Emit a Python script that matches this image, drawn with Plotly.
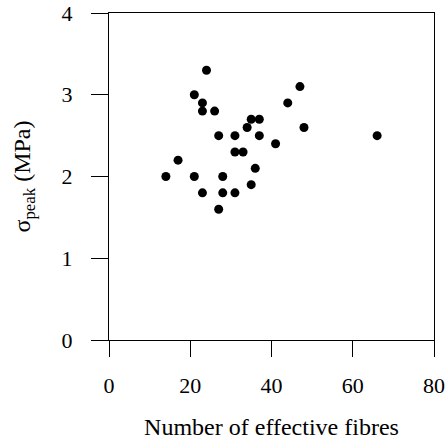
import plotly.graph_objects as go

# Effective fibre count vs. peak stress per specimen
fibres = [14, 17, 21, 21, 23, 23, 23, 24, 26, 27, 27, 28, 28, 31, 31, 31,
          33, 34, 35, 35, 36, 37, 37, 41, 44, 47, 48, 66]
sigma_peak = [2.0, 2.2, 3.0, 2.0, 2.9, 2.8, 1.8, 3.3, 2.8, 2.5, 1.6, 2.0, 1.8, 2.5, 2.3, 1.8,
              2.3, 2.6, 2.7, 1.9, 2.1, 2.7, 2.5, 2.4, 2.9, 3.1, 2.6, 2.5]

x_ticks = [0, 20, 40, 60, 80]
y_ticks = [0, 1, 2, 3, 4]

serif = "Liberation Serif, Times New Roman, serif"
font = dict(family=serif, size=22, color="black")

fig = go.Figure(
    go.Scatter(
        x=fibres, y=sigma_peak, mode="markers",
        marker=dict(color="black", size=9, line=dict(width=0)),
        cliponaxis=False,
    )
)

fig.update_layout(
    width=448, height=445,
    margin=dict(l=109, r=14, t=13, b=105),
    paper_bgcolor="white", plot_bgcolor="white",
    font=font, showlegend=False,
)

fig.update_xaxes(
    range=[0, 80], tickvals=x_ticks, ticktext=[str(v) for v in x_ticks],
    showgrid=False, zeroline=False, automargin=False,
    showline=True, linecolor="black", linewidth=1, mirror=True,
    ticks="outside", ticklen=16, tickcolor="black", tickwidth=1,
    ticklabelstandoff=10,
    title=dict(text="Number of effective fibres", standoff=20,
               font=dict(family=serif, size=24, color="black")),
)
fig.update_yaxes(
    range=[0, 4], tickvals=y_ticks, ticktext=[str(v) for v in y_ticks],
    showgrid=False, zeroline=False, automargin=False,
    showline=True, linecolor="black", linewidth=1, mirror=True,
    ticks="outside", ticklen=17, tickcolor="black", tickwidth=1,
    ticklabelstandoff=14,
    title=dict(text="σ<sub>peak</sub> (MPa)", standoff=24,
               font=dict(family=serif, size=24, color="black")),
)

fig.write_html("out.html")
